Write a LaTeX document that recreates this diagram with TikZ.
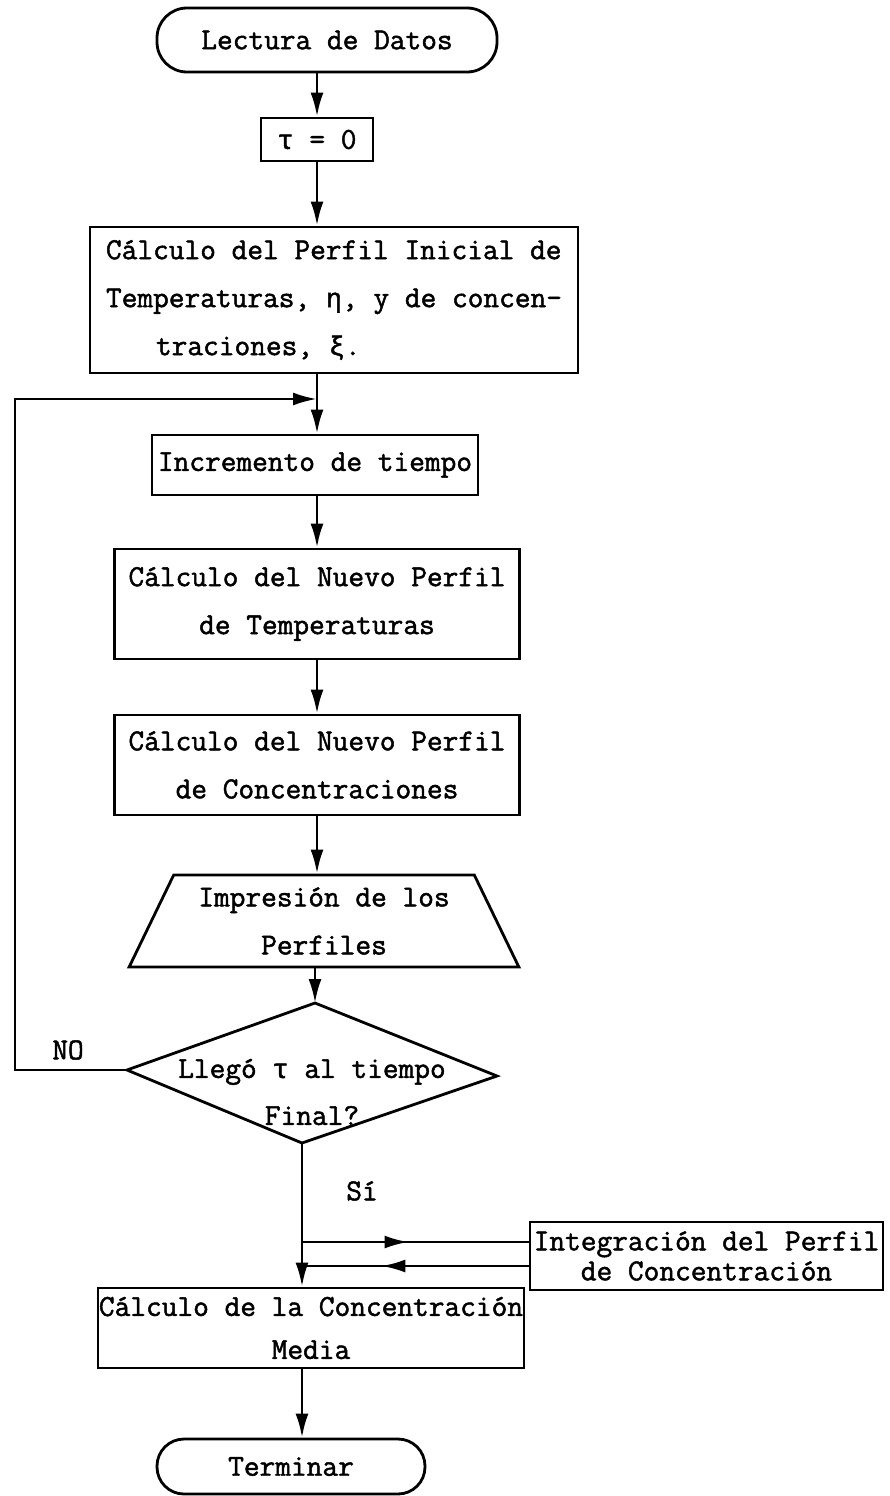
\documentclass[tikz,border=0pt]{standalone}
\usepackage{fontspec}
\setmonofont{Latin Modern Mono}[FakeBold=1.6]
\newfontfamily\greekmono{Liberation Mono}[FakeBold=1.6]
\usetikzlibrary{arrows.meta,decorations.markings,shapes.geometric}
% Greek letters set in a mono face that has them
\newcommand\gk[1]{{\greekmono\fontsize{27}{27}\selectfont #1}}

\begin{document}
\begin{tikzpicture}[x=1pt,y=-1pt,
  txt/.style={font=\ttfamily\fontsize{30.5}{48}\selectfont, align=center},
  box/.style={txt, draw, line width=2.8pt, inner sep=3pt},
  termbox/.style={box, rounded corners=30pt},
  ln/.style={line width=2.8pt},
  arr/.style={ln, -{Latex[length=24pt,width=13pt]}},
  midarrow/.style={ln, postaction={decorate},
    decoration={markings, mark=at position #1 with {\arrow{Latex[length=24pt,width=13pt]}}}}]

\fill[white] (0,0) rectangle (890,1496);
\useasboundingbox (0,0) rectangle (890,1496);

% process blocks
\node[termbox, minimum width=340pt, minimum height=64pt] (start) at (327,40) {Lectura de Datos};
\node[box, minimum width=112pt, minimum height=43pt] (tau) at (317,139.5) {\gk{τ} = 0};
\node[box, minimum width=488pt, minimum height=146pt, align=left] (ini) at (334,300)
  {Cálculo del Perfil Inicial de\\Temperaturas, \gk{η}, y de concen-\\\hspace*{50pt}traciones, \gk{ξ}.};
\node[box, minimum width=326pt, minimum height=60pt] (inc) at (315,465) {Incremento de tiempo};
\node[box, minimum width=405pt, minimum height=110pt] (temp) at (317,604)
  {Cálculo del Nuevo Perfil\\de Temperaturas};
\node[box, minimum width=405pt, minimum height=100pt] (conc) at (317,765)
  {Cálculo del Nuevo Perfil\\de Concentraciones};
\node[box, trapezium, trapezium left angle=61, trapezium right angle=61, trapezium stretches,
  minimum width=390pt, minimum height=92pt, inner sep=0pt] (trap) at (324,921)
  {Impresión de los\\Perfiles};

% decision
\coordinate (dtop) at (315,1003);
\coordinate (dleft) at (127,1070);
\coordinate (dright) at (497,1076);
\coordinate (dbot) at (302,1143);
\draw[ln, line join=miter] (dtop) -- (dright) -- (dbot) -- (dleft) -- cycle;
\node[txt, font=\ttfamily\fontsize{30.5}{47}\selectfont] (ask) at (312,1092) {Llegó \gk{τ} al tiempo\\Final?};
\node[txt] (no) at (68,1050) {NO};
\node[txt] (si) at (362,1191) {Sí};

\node[box, minimum width=353pt, minimum height=68pt, font=\ttfamily\fontsize{30.5}{30}\selectfont] (integ) at (706.5,1256)
  {Integración del Perfil\\de Concentración};
\node[box, minimum width=412pt, minimum height=80pt, inner sep=1pt, font=\ttfamily\fontsize{30.5}{43}\selectfont] (media) at (311,1328)
  {Cálculo de la Concentración\\Media};
\node[termbox, minimum width=268pt, minimum height=55pt, rounded corners=27pt] (term) at (291,1466.5) {Terminar};

% main flow
\draw[arr] (start.south -| tau.north) -- (tau.north);
\draw[arr] (tau.south) -- (tau.south |- ini.north);
\draw[arr] (ini.south -| tau) -- (inc.north -| tau);
\draw[arr] (inc.south -| tau) -- (temp.north -| tau);
\draw[arr] (temp.south -| tau) -- (conc.north -| tau);
\draw[arr] (conc.south -| tau) -- (trap.north -| tau);
\draw[arr] (trap.south -| dtop) -- (dtop);
\draw[arr] (dbot) -- (dbot |- media.north);
\draw[arr] (media.south -| dbot) -- (term.north -| dbot);

% return loop on NO
\coordinate (lc) at (15,399);
\coordinate (join) at (317,399);
\draw[arr] (dleft) -- (dleft -| lc) -- (lc) -- (join);

% side branch to the integration
\coordinate (b1) at (302,1242);
\coordinate (b2) at (302,1266);
\draw[midarrow=0.47] (b1) -- (b1 -| integ.west);
\draw[midarrow=0.65] (b2 -| integ.west) -- (b2);
\end{tikzpicture}
\end{document}
